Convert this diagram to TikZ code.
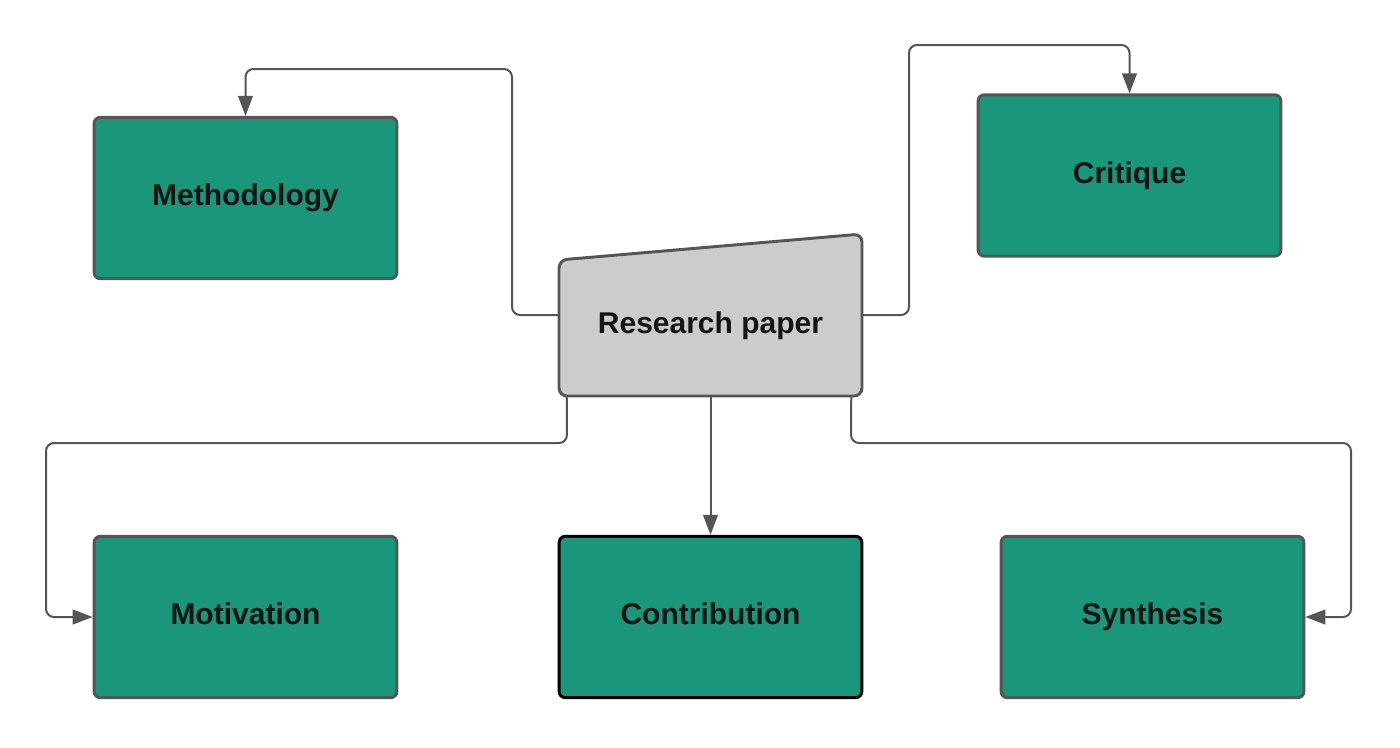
\documentclass[tikz,border=0pt]{standalone}
\usepackage{fontspec}
\setmainfont{Liberation Sans}
\usetikzlibrary{arrows.meta,calc}
\definecolor{boxfill}{HTML}{1A967A}
\definecolor{edgegray}{HTML}{555555}
\definecolor{paperfill}{HTML}{CCCCCC}
\definecolor{txt}{HTML}{141414}
\begin{document}
\begin{tikzpicture}[x=0.75pt,y=-0.75pt,
  lbl/.style={font=\bfseries\fontsize{22.5}{26}\selectfont,text=txt,
    text height=16pt,text depth=4.5pt},
  box/.style={lbl,draw=edgegray,line width=2.2pt,fill=boxfill,rounded corners=4.5pt,
    minimum width=227pt,minimum height=121pt,inner sep=0pt},
  conn/.style={draw=edgegray,line width=1.5pt,rounded corners=6pt,
    -{Triangle[length=15pt,width=11pt]}}]
\useasboundingbox (0,0) rectangle (1400,747);
% boxes
\node[box] (meth) at (245.5,198) {Methodology};
\node[box] (crit) at (1129.5,175.5) {Critique};
\node[box] (mot) at (245.5,617) {Motivation};
\node[box,draw=black] (contr) at (710.5,617) {Contribution};
\node[box] (syn) at (1152.5,617) {Synthesis};
% research paper shape
\draw[draw=edgegray,line width=2.2pt,fill=paperfill,rounded corners=6pt]
  (559,260) -- (862,234) -- (862,396) -- (559,396) -- cycle;
\node[minimum width=227.25pt,minimum height=121.5pt,inner sep=0pt] (paper) at (710.5,315) {};
\node[lbl] (papertext) at (710.5,326) {Research paper};
% connectors
\draw[conn] (paper.west) -- (512,315) -- (512,69) -- (meth.north |- 0,69) -- (meth.north);
\draw[conn] (paper.east) -- (909,315) -- (909,45) -- (crit.north |- 0,45) -- (crit.north);
\draw[conn] ($(paper.south west)+(8,0)$) -- (567,443) -- (46,443) -- (46,617) -- (mot.west);
\draw[conn] (paper.south) -- (contr.north);
\draw[conn] ($(paper.south east)+(-11,0)$) -- (851,443) -- (1351,443) -- (1351,617) -- (syn.east);
\end{tikzpicture}
\end{document}
